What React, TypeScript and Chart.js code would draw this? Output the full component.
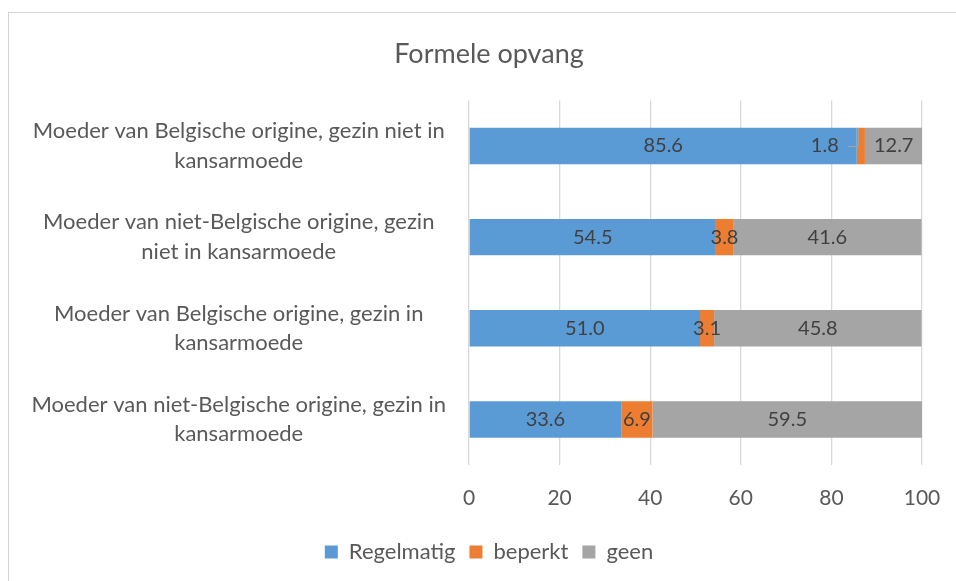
import React, { useEffect, useRef } from "react";
import { Chart, registerables } from "chart.js";

Chart.register(...registerables);

const categories: string[][] = [
  ["Moeder van Belgische origine, gezin niet in", "kansarmoede"],
  ["Moeder van niet-Belgische origine, gezin", "niet in kansarmoede"],
  ["Moeder van Belgische origine, gezin in", "kansarmoede"],
  ["Moeder van niet-Belgische origine, gezin in", "kansarmoede"],
];
const regelmatig = [85.6, 54.5, 51.0, 33.6];
const beperkt = [1.8, 3.8, 3.1, 6.9];
const geen = [12.7, 41.6, 45.8, 59.5];
const seriesNames = ["Regelmatig", "beperkt", "geen"];
const xTicks = [0, 20, 40, 60, 80, 100];

const FONT = "Lato, 'Open Sans', sans-serif";
const TEXT = "#595959";
const CANVAS_W = 980;

const labelPlugin = {
  id: "segLabels",
  afterDatasetsDraw(chart: any) {
    const ctx = chart.ctx;
    ctx.save();
    ctx.font = `20px ${FONT}`;
    ctx.fillStyle = "#404040";
    ctx.textBaseline = "middle";
    chart.data.datasets.forEach((ds: any, di: number) => {
      const meta = chart.getDatasetMeta(di);
      meta.data.forEach((bar: any, i: number) => {
        const v = ds.data[i];
        const txt = v.toFixed(1);
        const left = Math.min(bar.x, bar.base);
        const right = Math.max(bar.x, bar.base);
        const w = right - left;
        if (w >= 12) {
          ctx.textAlign = "center";
          ctx.fillText(txt, (left + right) / 2, bar.y);
        } else {
          const textRight = left - 18;
          ctx.textAlign = "right";
          ctx.fillText(txt, textRight, bar.y);
          ctx.strokeStyle = "#a6a6a6";
          ctx.lineWidth = 1;
          ctx.beginPath();
          ctx.moveTo(textRight + 9, bar.y + 0.5);
          ctx.lineTo(left + 1.5, bar.y + 0.5);
          ctx.lineTo(left + 1.5, bar.y - bar.height / 2);
          ctx.stroke();
        }
      });
    });
    ctx.restore();
  },
};

export default function App() {
  const ref = useRef<HTMLCanvasElement>(null);
  useEffect(() => {
    const chart = new Chart(ref.current!, {
      type: "bar",
      data: {
        labels: categories,
        datasets: [
          { label: seriesNames[0], data: regelmatig, backgroundColor: "#5B9BD5" },
          { label: seriesNames[1], data: beperkt, backgroundColor: "#ED7D31" },
          { label: seriesNames[2], data: geen, backgroundColor: "#A5A5A5" },
        ],
      },
      options: {
        indexAxis: "y",
        animation: false,
        responsive: false,
        maintainAspectRatio: false,
        datasets: { bar: { categoryPercentage: 0.5, barPercentage: 0.8 } },
        layout: { padding: { left: 10, right: 12, top: 0, bottom: 8 } },
        scales: {
          x: {
            stacked: true,
            min: xTicks[0],
            max: xTicks[xTicks.length - 1],
            afterBuildTicks: (s: any) => {
              s.ticks = xTicks.map((v) => ({ value: v }));
            },
            afterFit: (s: any) => {
              s.height = 62;
              s.paddingLeft = 0;
              s.paddingRight = 58;
            },
            grid: { color: "#d9d9d9", lineWidth: 1.3, drawTicks: false },
            border: { display: false },
            ticks: { padding: 21, color: TEXT, font: { family: FONT, size: 21 } },
          },
          y: {
            stacked: true,
            afterFit: (s: any) => {
              s.width = 459;
            },
            grid: { display: false, drawTicks: false },
            border: { display: false },
            ticks: {
              padding: 23,
              crossAlign: "center",
              color: TEXT,
              font: { family: FONT, size: 22, lineHeight: 1.35 },
            },
          },
        },
        plugins: {
          title: {
            display: true,
            text: "Formele opvang",
            color: TEXT,
            font: { family: FONT, size: 27, weight: "normal" },
            padding: { top: 38, bottom: 30 },
          },
          legend: {
            position: "bottom",
            labels: {
              boxWidth: 13,
              boxHeight: 13,
              color: TEXT,
              padding: 14,
              font: { family: FONT, size: 22 },
            },
          },
          tooltip: { enabled: false },
        },
      },
      plugins: [labelPlugin],
    } as any);
    return () => chart.destroy();
  }, []);
  return (
    <div style={{ position: "absolute", left: 0, top: 0, width: 956, height: 581, overflow: "hidden", background: "#fff" }}>
      <div style={{ position: "absolute", left: 8, top: 12, width: 1000, height: 1000, border: "1px solid #d4d4d4" }} />
      <canvas ref={ref} width={CANVAS_W} height={581} style={{ position: "absolute", left: 0, top: 0 }} />
    </div>
  );
}
